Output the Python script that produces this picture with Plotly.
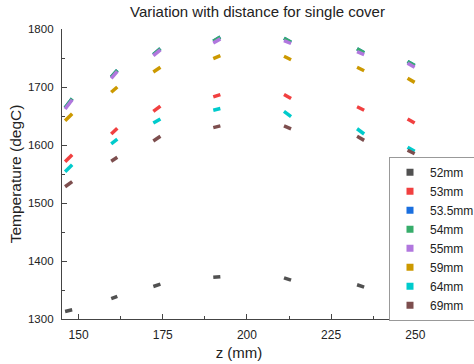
import plotly.graph_objects as go

# z position of each measurement dash (start and end of each short run)
z_start = [146.0, 159.7, 172.2, 190.0, 211.0, 232.7, 247.7]
z_end = [148.1, 161.5, 174.3, 192.1, 213.1, 234.8, 249.8]

series_names = ["52mm", "53mm", "53.5mm", "54mm", "55mm", "59mm", "64mm", "69mm"]

t52_start = [1313, 1335, 1356, 1372, 1371, 1359, 1352]
t52_end = [1316, 1339, 1360, 1373, 1367, 1355, 1351]
t53_start = [1571, 1619, 1658, 1683, 1687, 1666, 1645]
t53_end = [1583, 1629, 1667, 1687, 1680, 1660, 1638]
t535_start = [1664, 1717, 1756, 1779, 1784, 1766, 1744]
t535_end = [1680, 1729, 1766, 1786, 1777, 1759, 1737]
t54_start = [1664, 1717, 1756, 1779, 1784, 1766, 1744]
t54_end = [1680, 1729, 1766, 1786, 1777, 1759, 1737]
t55_start = [1662, 1715, 1754, 1776, 1780, 1761, 1741]
t55_end = [1678, 1727, 1764, 1783, 1775, 1756, 1734]
t59_start = [1642, 1691, 1726, 1749, 1753, 1734, 1715]
t59_end = [1654, 1700, 1734, 1754, 1747, 1728, 1708]
t64_start = [1554, 1602, 1638, 1660, 1658, 1628, 1596]
t64_end = [1566, 1610, 1645, 1663, 1649, 1619, 1589]
t69_start = [1528, 1572, 1607, 1630, 1633, 1615, 1591]
t69_end = [1537, 1579, 1615, 1633, 1628, 1608, 1585]

x_ticks = [150, 175, 200, 225, 250]
y_ticks = [1300, 1400, 1500, 1600, 1700, 1800]

colors = ["#515151", "#F14040", "#1A6FDF", "#37AD6B", "#B177DE", "#CC9900", "#00CBCC", "#7D4E4E"]

starts = [t52_start, t53_start, t535_start, t54_start, t55_start, t59_start, t64_start, t69_start]
ends = [t52_end, t53_end, t535_end, t54_end, t55_end, t59_end, t64_end, t69_end]

fig = go.Figure()
for name, col, ts, te in zip(series_names, colors, starts, ends):
    xs, ys = [], []
    for a, b, c, d in zip(z_start, z_end, ts, te):
        xs += [a, b, None]
        ys += [c, d, None]
    fig.add_trace(go.Scatter(x=xs, y=ys, mode="lines", name=name, legendgroup=name,
                             showlegend=False, line=dict(color=col, width=3.5),
                             hoverinfo="skip"))
for name, col in zip(series_names, colors):
    fig.add_trace(go.Scatter(x=[None], y=[None], mode="markers", name=name, legendgroup=name,
                             marker=dict(symbol="square", size=7, color=col)))

font_family = "Liberation Sans, Arial, sans-serif"
axis_common = dict(showline=True, linecolor="#444", linewidth=1.3, ticks="inside",
                   tickcolor="#444", ticklen=5, tickwidth=1.3, showgrid=False,
                   zeroline=False, mirror=False)
fig.update_layout(
    width=474, height=364,
    margin=dict(l=62, r=58, t=29, b=45, autoexpand=False),
    paper_bgcolor="white", plot_bgcolor="white",
    font=dict(family=font_family, color="#222"),
    title=dict(text="Variation with distance for single cover", x=257.5 / 474, xref="container",
               xanchor="center", y=1 - 12 / 364, yref="container", yanchor="middle",
               font=dict(size=15, color="#222")),
    xaxis=dict(range=[145.08, 250.2], tickvals=x_ticks, ticktext=[str(v) for v in x_ticks],
               tickfont=dict(size=12), ticklabelstandoff=4,
               minor=dict(ticks="inside", ticklen=3, tickcolor="#444", tickwidth=1.2, dtick=12.5,
                          tick0=150),
               title=dict(text="z (mm)", font=dict(size=15), standoff=6), **axis_common),
    yaxis=dict(range=[1300, 1800], tickvals=y_ticks, ticktext=[str(v) for v in y_ticks],
               tickfont=dict(size=11.5), ticklabelstandoff=5,
               minor=dict(ticks="inside", ticklen=3, tickcolor="#444", tickwidth=1.2, dtick=50,
                          tick0=1300),
               title=dict(text="Temperature (degC)", font=dict(size=15.5), standoff=2),
               **axis_common),
    legend=dict(x=(389 - 62) / 354, y=(319.3 - 157) / 290, xanchor="left", yanchor="top",
                bgcolor="white", bordercolor="#999", borderwidth=1, font=dict(size=12),
                tracegroupgap=0),
    showlegend=True,
)
fig.write_html("out.html", config={"displayModeBar": False},
               post_script="document.body.style.margin='0';document.body.style.padding='0';")
